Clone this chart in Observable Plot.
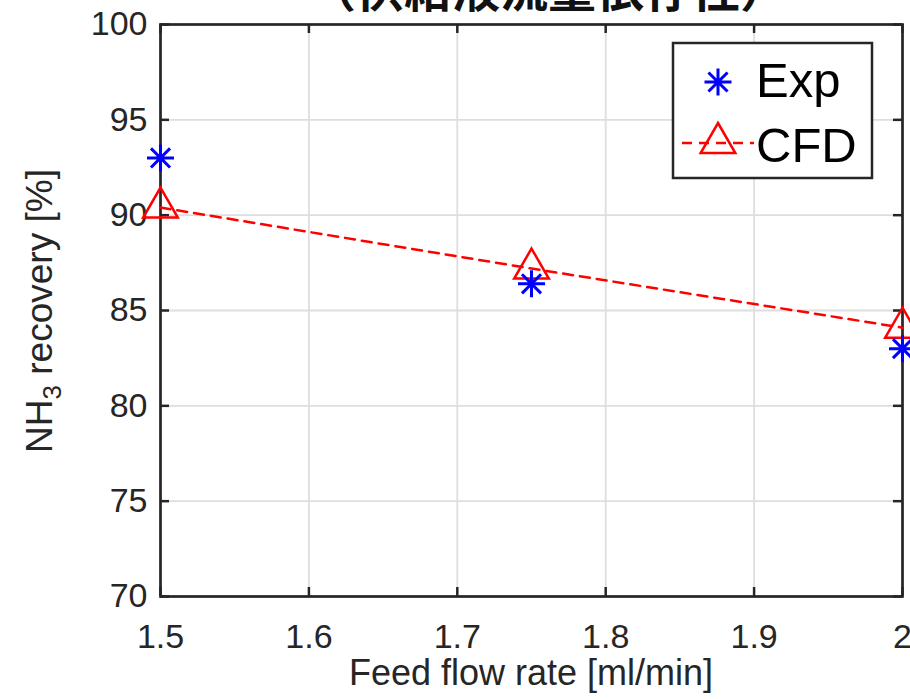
<!DOCTYPE html>
<html>
<head>
<meta charset="utf-8">
<script src="https://cdn.jsdelivr.net/npm/d3@7"></script>
<script src="https://cdn.jsdelivr.net/npm/@observablehq/plot@0.6"></script>
<style>
  html, body { margin: 0; padding: 0; background: #fff; }
  #chart { width: 910px; height: 699px; overflow: hidden; }
</style>
</head>
<body>
<div id="chart"></div>
<script>
// Feed flow rate [ml/min] and NH3 recovery [%]
const feedFlow = [1.5, 1.75, 2.0];
const expRecovery = [93.0, 86.4, 83.0];
const cfdRecovery = [90.4, 87.2, 84.1];

const xTicks = [1.5, 1.6, 1.7, 1.8, 1.9, 2.0];
const xTickLabels = ["1.5", "1.6", "1.7", "1.8", "1.9", "2"];
const yTicks = [70, 75, 80, 85, 90, 95, 100];
const seriesNames = ["Exp", "CFD"];
const titleText = "（供給液流量依存性）";
const xLabel = "Feed flow rate [ml/min]";

const expData = feedFlow.map((x, i) => ({x, y: expRecovery[i]}));
const cfdData = feedFlow.map((x, i) => ({x, y: cfdRecovery[i]}));

// eight-armed asterisk marker
const asterisk = {
  draw(ctx, size) {
    const r = Math.sqrt(size / Math.PI), d = r * Math.SQRT1_2;
    ctx.moveTo(0, -r); ctx.lineTo(0, r);
    ctx.moveTo(-r, 0); ctx.lineTo(r, 0);
    ctx.moveTo(-d, -d); ctx.lineTo(d, d);
    ctx.moveTo(-d, d); ctx.lineTo(d, -d);
  }
};
// upward triangle centred on its centroid
const triangleUp = {
  draw(ctx, size) {
    const r = Math.sqrt(size / Math.PI), w = r * Math.sqrt(3) / 2;
    ctx.moveTo(0, -r); ctx.lineTo(w, r / 2); ctx.lineTo(-w, r / 2); ctx.closePath();
  }
};

const W = 910, H = 699, mL = 160, mR = 8, mT = 24, mB = 103;
const innerW = W - mL - mR, innerH = H - mT - mB;
const axisColor = "#262626", gridColor = "#dedede";
const font = "'Liberation Sans', Arial, Helvetica, sans-serif";
const tickLen = 9;

const chart = Plot.plot({
  width: W, height: H,
  marginLeft: mL, marginRight: mR, marginTop: mT, marginBottom: mB,
  style: {fontFamily: font, background: "#fff", color: axisColor},
  x: {domain: [1.5, 2]},
  y: {domain: [70, 100]},
  marks: [
    Plot.gridX(xTicks, {stroke: gridColor, strokeOpacity: 1, strokeWidth: 1.8}),
    Plot.gridY(yTicks, {stroke: gridColor, strokeOpacity: 1, strokeWidth: 1.8}),
    Plot.frame({stroke: axisColor, strokeWidth: 2.7}),
    Plot.tickX(xTicks, {insetTop: innerH - tickLen, stroke: axisColor, strokeWidth: 2.5}),
    Plot.tickX(xTicks, {insetBottom: innerH - tickLen, stroke: axisColor, strokeWidth: 2.5}),
    Plot.tickY(yTicks, {insetRight: innerW - tickLen, stroke: axisColor, strokeWidth: 2.5}),
    Plot.tickY(yTicks, {insetLeft: innerW - tickLen, stroke: axisColor, strokeWidth: 2.5}),
    Plot.axisX(xTicks, {tickSize: 0, tickPadding: 27, fontSize: 34, label: null,
      tickFormat: d => xTickLabels[xTicks.indexOf(d)]}),
    Plot.axisY(yTicks, {tickSize: 0, tickPadding: 13, fontSize: 34, label: null}),
    Plot.line(cfdData, {x: "x", y: "y", stroke: "#ff0000", strokeWidth: 2.5, strokeDasharray: "10,7"}),
    Plot.dot(cfdData, {x: "x", y: "y", symbol: triangleUp, r: 20, stroke: "#ff0000", strokeWidth: 2.5, fill: "none"}),
    Plot.dot(expData, {x: "x", y: "y", symbol: asterisk, r: 13.5, stroke: "#0000ff", strokeWidth: 3})
  ]
});
document.getElementById("chart").append(chart);

const svg = d3.select(chart);

// title (partly above the top edge)
svg.append("text")
  .attr("x", 548).attr("y", 7)
  .attr("text-anchor", "middle")
  .attr("font-family", "'Noto Sans CJK JP', sans-serif")
  .attr("font-weight", 700).attr("font-size", 48)
  .attr("fill", "#111")
  .text(titleText);

// x axis label
svg.append("text")
  .attr("x", mL + innerW / 2).attr("y", 685)
  .attr("text-anchor", "middle")
  .attr("font-family", font).attr("font-size", 36)
  .attr("fill", axisColor)
  .text(xLabel);

// y axis label with subscript
const yl = svg.append("text")
  .attr("transform", "translate(52,311) rotate(-90)")
  .attr("text-anchor", "middle")
  .attr("font-family", font).attr("font-size", 37)
  .attr("fill", axisColor);
yl.append("tspan").text("NH");
yl.append("tspan").attr("font-size", 26).attr("dy", 9).text("3");
yl.append("tspan").attr("dy", -9).text(" recovery [%]");

// legend
const lg = svg.append("g");
lg.append("rect")
  .attr("x", 673).attr("y", 43).attr("width", 199).attr("height", 135)
  .attr("fill", "#fff").attr("stroke", axisColor).attr("stroke-width", 2.5);
lg.append("path")
  .attr("transform", "translate(718,82)")
  .attr("d", d3.symbol(asterisk, Math.PI * 13.5 * 13.5)())
  .attr("fill", "none").attr("stroke", "#0000ff").attr("stroke-width", 3);
lg.append("line")
  .attr("x1", 682).attr("x2", 754).attr("y1", 143).attr("y2", 143)
  .attr("stroke", "#ff0000").attr("stroke-width", 2.5).attr("stroke-dasharray", "10,7");
lg.append("path")
  .attr("transform", "translate(718,143)")
  .attr("d", d3.symbol(triangleUp, Math.PI * 20 * 20)())
  .attr("fill", "none").attr("stroke", "#ff0000").attr("stroke-width", 2.5);
lg.selectAll("text.series")
  .data(seriesNames)
  .join("text")
  .attr("class", "series")
  .attr("x", 756).attr("y", (d, i) => 97 + i * 65)
  .attr("text-anchor", "start")
  .attr("font-family", font).attr("font-size", 49)
  .attr("fill", "#000")
  .text(d => d);
</script>
</body>
</html>
